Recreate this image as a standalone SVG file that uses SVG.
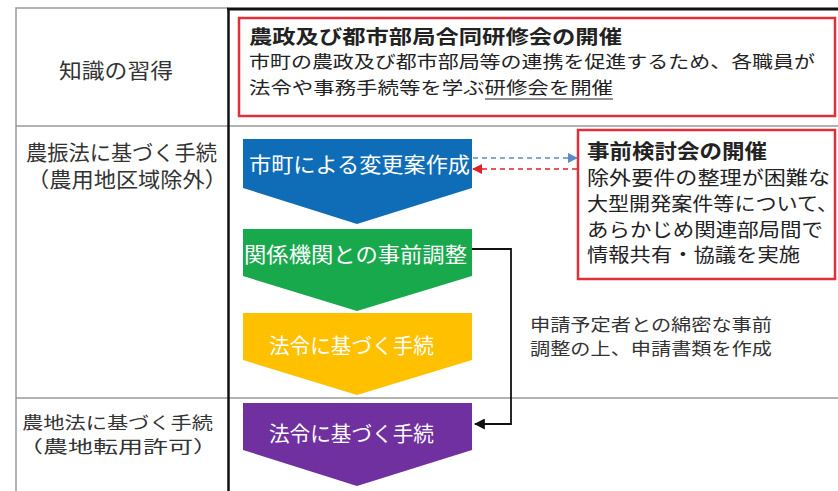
<svg xmlns="http://www.w3.org/2000/svg" width="838" height="491" viewBox="0 0 838 491">
<defs>
<style>
text{font-family:"Noto Sans CJK JP","Noto Sans",sans-serif;}
.lbl{font-size:21px;fill:#333;}
.chev{font-size:21px;fill:#fff;}
.box{fill:#fff;stroke:#e0303a;stroke-width:2.5;}
.bt{font-size:19px;font-weight:bold;fill:#222;}
.bb{font-size:17px;fill:#222;}
.grid{stroke:#999;stroke-width:1.5;fill:none;}
.note{font-size:17px;fill:#333;}
</style>
<marker id="ab" viewBox="0 0 10 10" refX="9" refY="5" markerWidth="10" markerHeight="10" markerUnits="userSpaceOnUse" orient="auto"><path d="M0,0 L10,5 L0,10 z" fill="#5b8cc4"/></marker>
<marker id="ar" viewBox="0 0 10 10" refX="9" refY="5" markerWidth="10" markerHeight="10" markerUnits="userSpaceOnUse" orient="auto"><path d="M0,0 L10,5 L0,10 z" fill="#e0202a"/></marker>
<marker id="ak" viewBox="0 0 10 10" refX="9" refY="5" markerWidth="11" markerHeight="11" markerUnits="userSpaceOnUse" orient="auto"><path d="M0,0 L10,5 L0,10 z" fill="#111"/></marker>
</defs>
<rect width="838" height="491" fill="#fff"/>
<g id="table">
<path class="grid" d="M16,491 V8 H228"/>
<line class="grid" x1="16" y1="126" x2="838" y2="126"/>
<line class="grid" x1="16" y1="398" x2="838" y2="398"/>
<line x1="228.5" y1="8" x2="228.5" y2="491" stroke="#111" stroke-width="2.5"/>
<line x1="227" y1="9" x2="838" y2="9" stroke="#111" stroke-width="3"/>
</g>
<g id="row-knowledge">
<text class="lbl" x="59" y="78" textLength="114" lengthAdjust="spacingAndGlyphs">知識の習得</text>
</g>
<g id="row-noshin">
<text class="lbl" x="26" y="160" textLength="191" lengthAdjust="spacingAndGlyphs">農振法に基づく手続</text>
<text class="lbl" x="27" y="187" textLength="200" lengthAdjust="spacingAndGlyphs">（農用地区域除外）</text>
</g>
<g id="row-nochi">
<text class="lbl" x="22" y="429" textLength="191" lengthAdjust="spacingAndGlyphs" style="font-size:17px">農地法に基づく手続</text>
<text class="lbl" x="18" y="453" textLength="200" lengthAdjust="spacingAndGlyphs" style="font-size:17px">（農地転用許可）</text>
</g>
<g id="training">
<rect class="box" x="239" y="18" width="596" height="98"/>
<text class="bt" x="249" y="44" textLength="373" lengthAdjust="spacingAndGlyphs">農政及び都市部局合同研修会の開催</text>
<text class="bb" x="249" y="68" textLength="566" lengthAdjust="spacingAndGlyphs">市町の農政及び都市部局等の連携を促進するため、各職員が</text>
<text class="bb" x="249" y="94" textLength="364" lengthAdjust="spacingAndGlyphs">法令や事務手続等を学ぶ研修会を開催</text>
<line x1="485" y1="99" x2="613" y2="99" stroke="#222" stroke-width="1.2"/>
</g>
<g id="step-draft">
<polygon points="243,139 472,139 472,188 357,224 243,188" fill="#0f6db8"/>
<text class="chev" x="249" y="172" textLength="221" lengthAdjust="spacingAndGlyphs">市町による変更案作成</text>
</g>
<g id="step-coord">
<polygon points="243,229 472,229 472,276 357,311 243,276" fill="#17a94c"/>
<text class="chev" x="244" y="262" textLength="223" lengthAdjust="spacingAndGlyphs">関係機関との事前調整</text>
</g>
<g id="step-law1">
<polygon points="243,313 472,313 472,360 357,395 243,360" fill="#ffc000"/>
<text class="chev" x="269" y="353" textLength="165" lengthAdjust="spacingAndGlyphs">法令に基づく手続</text>
</g>
<g id="step-law2">
<polygon points="243,403 472,403 472,450 357,486 243,450" fill="#7030a0"/>
<text class="chev" x="269" y="441" textLength="165" lengthAdjust="spacingAndGlyphs">法令に基づく手続</text>
</g>
<g id="pre-review">
<rect class="box" x="578" y="130" width="257" height="149"/>
<text class="bt" x="587" y="159" textLength="180" lengthAdjust="spacingAndGlyphs" style="font-size:20px">事前検討会の開催</text>
<text class="bb" x="587" y="185" textLength="243" lengthAdjust="spacingAndGlyphs" style="font-size:19px">除外要件の整理が困難な</text>
<text class="bb" x="587" y="211" textLength="251" lengthAdjust="spacingAndGlyphs" style="font-size:19px">大型開発案件等について、</text>
<text class="bb" x="587" y="237" textLength="236" lengthAdjust="spacingAndGlyphs" style="font-size:19px">あらかじめ関連部局間で</text>
<text class="bb" x="587" y="262" textLength="213" lengthAdjust="spacingAndGlyphs" style="font-size:19px">情報共有・協議を実施</text>
</g>
<g id="note">
<text class="note" x="530" y="331" textLength="242" lengthAdjust="spacingAndGlyphs">申請予定者との綿密な事前</text>
<text class="note" x="530" y="355" textLength="242" lengthAdjust="spacingAndGlyphs">調整の上、申請書類を作成</text>
</g>
<g id="connectors">
<line x1="473" y1="158" x2="577" y2="158" stroke="#5b8cc4" stroke-width="1.5" stroke-dasharray="5,4" marker-end="url(#ab)"/>
<line x1="577" y1="169" x2="473" y2="169" stroke="#e0202a" stroke-width="1.5" stroke-dasharray="5,4" marker-end="url(#ar)"/>
<polyline points="472,249 511,249 511,424 475,424" fill="none" stroke="#111" stroke-width="1.8" marker-end="url(#ak)"/>
</g>
</svg>
